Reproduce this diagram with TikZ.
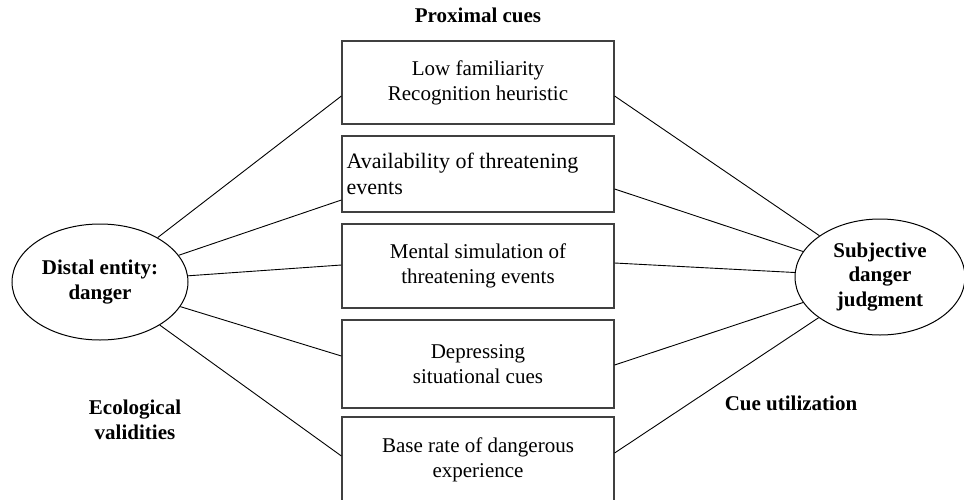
\documentclass[tikz,border=0pt]{standalone}
\usepackage{fontspec}
\setmainfont{Liberation Serif}
\usetikzlibrary{shapes.geometric}
\begin{document}
\begin{tikzpicture}[x=1pt,y=-1pt,
  cuebox/.style={draw=black!75, line width=1.2pt, minimum width=272pt, inner sep=0pt, align=center, font=\fontsize{21}{25}\selectfont},
  ovalnode/.style={draw, ellipse, line width=1pt, inner sep=0pt, align=center, font=\fontsize{21}{24.5}\selectfont\bfseries},
  lbl/.style={align=center, font=\fontsize{21}{25}\selectfont\bfseries},
  link/.style={line width=0.9pt}]
\useasboundingbox (0,0) rectangle (964,499);
\clip (0,0) rectangle (964,499);

\node[lbl, anchor=base] (prox) at (478,22) {Proximal cues};
\node[lbl] (eco) at (135,420) {Ecological\\validities};
\node[lbl] (cue) at (791,403) {Cue utilization};

\node[cuebox, minimum height=83pt] (b1) at (478,82.5) {Low familiarity\\Recognition heuristic};
\node[cuebox, minimum height=76pt] (b2) at (478,174) {};
\node[anchor=west, inner sep=0pt, align=left, font=\fontsize{22}{26.5}\selectfont] (t2) at ([xshift=5pt]b2.west) {Availability of threatening\\events};
\node[cuebox, minimum height=84pt] (b3) at (478,266) {Mental simulation of\\threatening events};
\node[cuebox, minimum height=88pt] (b4) at (478,364) {Depressing\\situational cues};
\node[cuebox, minimum height=86pt] (b5) at (478,460) {Base rate of dangerous\\experience};

\node[ovalnode, minimum width=176pt, minimum height=116pt] (L) at (100,282) {Distal entity:\\danger};
\node[ovalnode, minimum width=170pt, minimum height=116pt] (R) at (880,277) {Subjective\\danger\\judgment};

\draw[link] (L) -- ([yshift=-13.5pt]b1.west);
\draw[link] (L) -- ([yshift=-26pt]b2.west);
\draw[link] (L) -- ([yshift=1pt]b3.west);
\draw[link] (L) -- ([yshift=8pt]b4.west);
\draw[link] (L) -- ([yshift=4pt]b5.west);

\draw[link] ([yshift=-13.5pt]b1.east) -- (R);
\draw[link] ([yshift=-15pt]b2.east) -- (R);
\draw[link] ([yshift=3pt]b3.east) -- (R);
\draw[link] ([yshift=-1pt]b4.east) -- (R);
\draw[link] ([yshift=7pt]b5.east) -- (R);
\end{tikzpicture}
\end{document}
